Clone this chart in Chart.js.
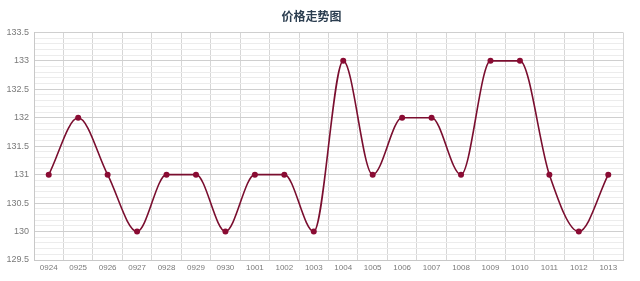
<!DOCTYPE html>
<html>
<head>
<meta charset="utf-8">
<script src="https://cdn.jsdelivr.net/npm/chart.js@4/dist/chart.umd.min.js"></script>
<style>
html,body{margin:0;padding:0;background:#fff;}
#wrap{width:640px;height:281px;}
</style>
</head>
<body>
<div id="wrap"><canvas id="c" width="640" height="281"></canvas></div>
<script>
const chartTitle = "价格走势图";
const categories = ["0924","0925","0926","0927","0928","0929","0930","1001","1002","1003","1004","1005","1006","1007","1008","1009","1010","1011","1012","1013"];
const prices = [131,132,131,130,131,131,130,131,131,130,133,131,132,132,131,133,133,131,130,131];
const yMin = 129.5, yMax = 133.5, yMinorStep = 0.1, yMajorStep = 0.5;

const isMajor = v => Math.abs(v / yMajorStep - Math.round(v / yMajorStep)) < 1e-6;

new Chart(document.getElementById('c'), {
  type: 'line',
  data: {
    labels: categories,
    datasets: [{
      data: prices,
      borderColor: '#7a0e2f',
      borderWidth: 1.6,
      backgroundColor: '#8a0b33',
      pointBackgroundColor: '#8a0b33',
      pointBorderColor: '#8a0b33',
      pointRadius: 3,
      pointBorderWidth: 0,
      cubicInterpolationMode: 'monotone',
      fill: false
    }]
  },
  options: {
    responsive: false,
    animation: false,
    layout: { padding: { left: 0, right: 17, top: 0, bottom: 0 } },
    plugins: {
      legend: { display: false },
      tooltip: { enabled: false },
      title: {
        display: true,
        text: chartTitle,
        color: '#2c3e50',
        font: { family: '"Noto Sans CJK SC"', size: 12, weight: 'bold' },
        padding: { top: 9, bottom: 9 }
      }
    },
    scales: {
      x: {
        offset: true,
        grid: { offset: true, color: '#d6d6d6', drawTicks: false, lineWidth: 1 },
        border: { color: '#c8c8c8' },
        ticks: {
          color: '#7a7a7a',
          font: { family: '"Liberation Sans Narrow", "Liberation Sans"', size: 8 },
          padding: 3,
          maxRotation: 0,
          autoSkip: false
        },
        afterFit: s => { s.height = 21; }
      },
      y: {
        min: yMin,
        max: yMax,
        grid: {
          drawTicks: false,
          color: ctx => isMajor(ctx.tick.value) ? '#cfcfcf' : '#ececec',
          lineWidth: 1
        },
        border: { color: '#c8c8c8' },
        ticks: {
          stepSize: yMinorStep,
          autoSkip: false,
          color: '#7a7a7a',
          font: { family: '"Liberation Sans"', size: 9 },
          padding: 5,
          callback: v => isMajor(v) ? String(Math.round(v * 10) / 10) : ''
        },
        afterFit: s => { s.width = 34; }
      }
    }
  }
});
</script>
</body>
</html>
